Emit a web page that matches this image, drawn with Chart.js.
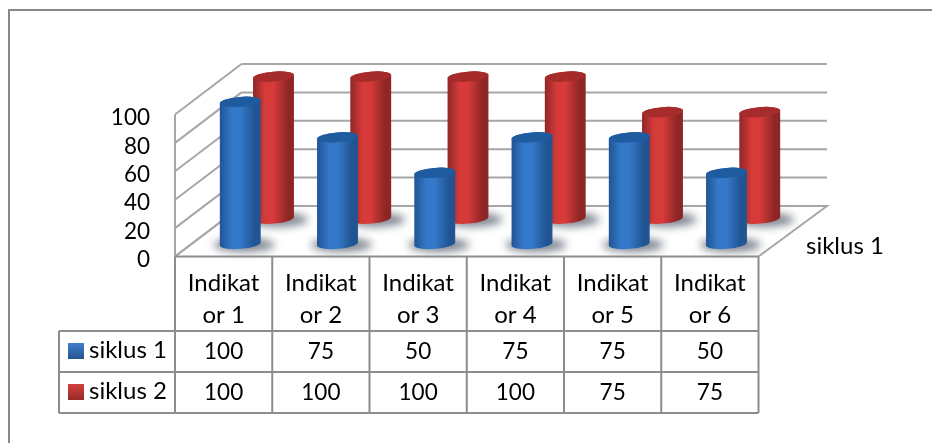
<!DOCTYPE html>
<html>
<head>
<meta charset="utf-8">
<style>
  html, body { margin: 0; padding: 0; background: #fff; }
  #wrap { width: 932px; height: 443px; }
</style>
<script src="https://cdn.jsdelivr.net/npm/chart.js@4"></script>
</head>
<body>
<div id="wrap"><canvas id="chart" width="932" height="443"></canvas></div>
<script>
const categories = [['Indikat', 'or 1'], ['Indikat', 'or 2'], ['Indikat', 'or 3'], ['Indikat', 'or 4'], ['Indikat', 'or 5'], ['Indikat', 'or 6']];
const siklus1 = [100, 75, 50, 75, 75, 50];
const siklus2 = [100, 100, 100, 100, 75, 75];
const seriesNames = ['siklus 1', 'siklus 2'];
const depthLabel = 'siklus 1';
const yTicks = [0, 20, 40, 60, 80, 100];

const FONT = 'Lato, Carlito, sans-serif';
const LINE = '#a6a6a6';
const DEPTH_X = 66.5, DEPTH_Y = 50.5;   // how far the back wall sits from the front
const RX = 20.5, RY = 5;

const blue = { dark: '#215493', mid: '#3479c9', cap: '#1f5c9f', key: ['#3f7fcc', '#255591'] };
const red = { dark: '#8f2626', mid: '#d63b39', cap: '#a62b2b', key: ['#d4403c', '#962a28'] };

function line(ctx, x1, y1, x2, y2) {
    ctx.beginPath();
    ctx.moveTo(x1, y1);
    ctx.lineTo(x2, y2);
    ctx.stroke();
}

function cylinder(ctx, cx, yTop, yBase, c) {
    // soft shadow on the floor
    ctx.save();
    ctx.filter = 'blur(4px)';
    ctx.fillStyle = 'rgba(70,80,95,0.7)';
    ctx.beginPath();
    ctx.ellipse(cx + 4, yBase + 1, RX + 10, RY + 2, 0, 0, Math.PI * 2);
    ctx.fill();
    ctx.restore();

    ctx.save();
    ctx.filter = 'blur(0.6px)';
    const g = ctx.createLinearGradient(cx - RX, 0, cx + RX, 0);
    g.addColorStop(0, c.dark);
    g.addColorStop(0.3, c.mid);
    g.addColorStop(0.5, c.mid);
    g.addColorStop(0.85, c.dark);
    g.addColorStop(1, c.dark);

    const tilt = -0.08;
    ctx.fillStyle = g;
    ctx.beginPath();
    ctx.ellipse(cx, yTop, RX, RY, tilt, Math.PI, 0, false);
    ctx.ellipse(cx, yBase, RX, RY, tilt, 0, Math.PI, false);
    ctx.closePath();
    ctx.fill();

    ctx.fillStyle = c.cap;
    ctx.beginPath();
    ctx.ellipse(cx, yTop, RX, RY, tilt, 0, Math.PI * 2);
    ctx.fill();
    ctx.restore();
}

const scene = {
    id: 'scene',
    beforeDatasetsDraw(chart) {
        const { ctx, scales: { x, y } } = chart;
        const y0 = y.getPixelForValue(0);
        const left = x.left, right = x.right;
        ctx.save();
        ctx.lineWidth = 2;
        // frame: only the top and left edges show in the picture
        ctx.strokeStyle = '#878787';
        ctx.beginPath();
        ctx.moveTo(9, 443);
        ctx.lineTo(9, 10);
        ctx.lineTo(932, 10);
        ctx.stroke();
        ctx.strokeStyle = LINE;
        // floor
        ctx.beginPath();
        ctx.moveTo(left, y0);
        ctx.lineTo(left + DEPTH_X, y0 - DEPTH_Y);
        ctx.lineTo(right + DEPTH_X + 2, y0 - DEPTH_Y);
        ctx.lineTo(right, y0);
        ctx.stroke();
        // wall lines
        yTicks.forEach(v => {
            const py = y.getPixelForValue(v);
            line(ctx, left, py, left + DEPTH_X, py - DEPTH_Y);
            line(ctx, left + DEPTH_X, py - DEPTH_Y, right + DEPTH_X + 2, py - DEPTH_Y);
        });
        line(ctx, left, y.getPixelForValue(100), left, y0);
        ctx.restore();
    },
    afterDatasetsDraw(chart) {
        const { ctx, scales: { x, y } } = chart;
        const y0 = y.getPixelForValue(0);
        siklus2.forEach((v, i) => {
            cylinder(ctx, x.getPixelForValue(i) + DEPTH_X * 0.75, y.getPixelForValue(v) - DEPTH_Y * 0.75, y0 - DEPTH_Y * 0.75, red);
        });
        siklus1.forEach((v, i) => {
            cylinder(ctx, x.getPixelForValue(i) + DEPTH_X * 0.25, y.getPixelForValue(v) - DEPTH_Y * 0.25, y0 - DEPTH_Y * 0.25, blue);
        });
    },
    afterDraw(chart) {
        const { ctx, scales: { x, y } } = chart;
        const y0 = y.getPixelForValue(0);
        const rows = [331, 372, 413];
        const tableLeft = 59;
        const colW = (x.right - x.left) / categories.length;
        ctx.save();
        ctx.strokeStyle = '#8c8c8c';
        ctx.lineWidth = 2;
        line(ctx, x.left, y0, x.right, y0);
        for (let i = 0; i <= categories.length; i++) {
            line(ctx, x.left + colW * i, y0, x.left + colW * i, rows[2]);
        }
        rows.forEach(r => line(ctx, tableLeft, r, x.right, r));
        line(ctx, tableLeft, rows[0], tableLeft, rows[2]);

        ctx.font = '22.5px ' + FONT;
        ctx.fillStyle = '#000';
        ctx.textBaseline = 'middle';
        ctx.textAlign = 'center';
        [siklus1, siklus2].forEach((vals, r) => {
            vals.forEach((v, i) => ctx.fillText(String(v), x.getPixelForValue(i), rows[r] + 20.5));
        });
        ctx.font = '24px ' + FONT;
        ctx.textAlign = 'left';
        seriesNames.forEach((name, r) => {
            const c = r === 0 ? blue : red;
            const g = ctx.createLinearGradient(0, rows[r] + 12, 0, rows[r] + 28);
            g.addColorStop(0, c.key[0]);
            g.addColorStop(1, c.key[1]);
            ctx.fillStyle = g;
            ctx.fillRect(68, rows[r] + 12, 16, 16);
            ctx.fillStyle = '#000';
            ctx.fillText(name, 89, rows[r] + 19);
        });
        ctx.fillText(depthLabel, 806, 246);
        ctx.restore();
    }
};

new Chart(document.getElementById('chart'), {
    type: 'bar',
    data: {
        labels: categories,
        datasets: [
            { label: seriesNames[0], data: siklus1, backgroundColor: 'transparent' },
            { label: seriesNames[1], data: siklus2, backgroundColor: 'transparent' }
        ]
    },
    options: {
        responsive: false,
        animation: false,
        layout: {
            autoPadding: false,
            padding: { left: 0, top: 114.5, right: 173.5, bottom: 0 }
        },
        plugins: { legend: { display: false }, tooltip: { enabled: false }, title: { display: false } },
        scales: {
            x: {
                afterFit(scale) { scale.height = 186.5; },
                grid: { display: false, drawTicks: false },
                border: { display: false },
                ticks: {
                    autoSkip: false,
                    maxRotation: 0,
                    padding: 11,
                    color: '#000',
                    font: { family: FONT, size: 24, lineHeight: '32px' }
                }
            },
            y: {
                min: 0,
                max: 100,
                afterFit(scale) { scale.width = 175; },
                afterBuildTicks(scale) { scale.ticks = yTicks.map(v => ({ value: v })); },
                grid: { display: false, drawTicks: false },
                border: { display: false },
                ticks: {
                    padding: 25,
                    color: '#000',
                    // empty first line nudges the label down a little, as in the picture
                    callback: v => ['', String(v)],
                    font: { family: FONT, size: 22.5, lineHeight: '7px' }
                }
            }
        }
    },
    plugins: [scene]
});
</script>
</body>
</html>
